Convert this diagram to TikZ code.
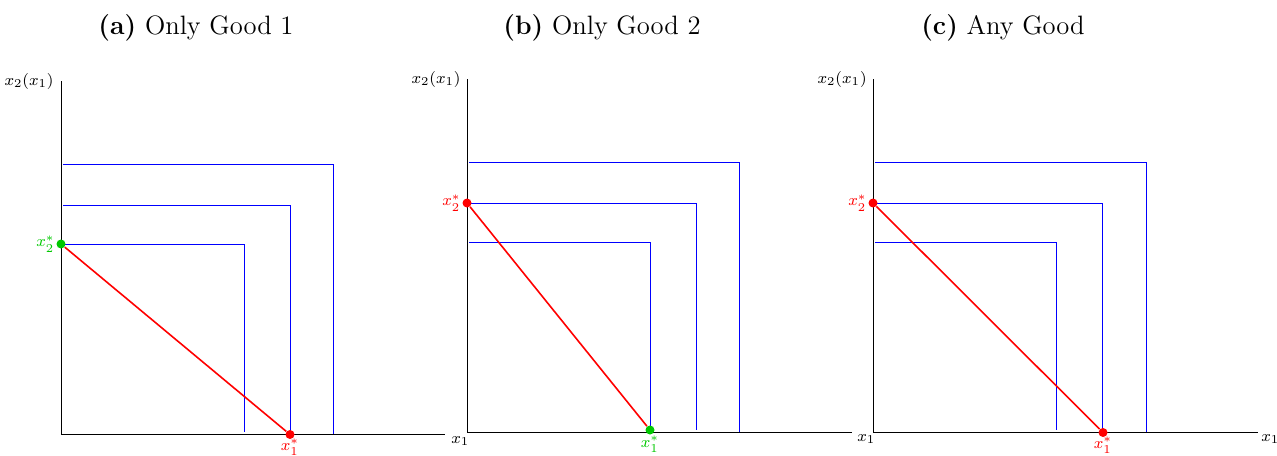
\documentclass[tikz,border=0pt]{standalone}
\begin{document}
\begin{tikzpicture}[x=0.5pt,y=-0.5pt,
  axis/.style={line width=0.5pt,black},
  indiff/.style={line width=0.5pt,blue},
  budget/.style={line width=0.8pt,red},
  reddot/.style={circle,fill=red,inner sep=0pt,minimum size=4.5pt},
  greendot/.style={circle,fill=goodgreen,inner sep=0pt,minimum size=4.5pt},
  lbl/.style={font=\fontsize{8.2}{10}\selectfont,inner sep=0.5pt},
  ttl/.style={font=\fontsize{13.3}{16}\selectfont,inner sep=0pt}]
\definecolor{goodgreen}{RGB}{0,200,0}
\useasboundingbox (0,0) rectangle (1277,455);
% ---------- panel a ----------
\node[ttl] (ta) at (196,28) {\textbf{(a)} Only Good 1};
\coordinate (aO) at (61,434.5);
\coordinate (aY) at (61,81);
\coordinate (aX) at (445,434.5);
\draw[axis] (aY) -- (aO) -- (aX);
\node[lbl,anchor=east] (aylab) at (55,81) {$x_2(x_1)$};
\node[lbl,anchor=north west] (axlab) at (450,435) {$x_1$};
\draw[indiff] (63,164) -- (333,164) -- (333,434);
\draw[indiff] (63,205) -- (290,205) -- (290,432);
\draw[indiff] (63,244) -- (244,244) -- (244,432);
\node[greendot] (a2) at (61,244) {};
\node[reddot] (a1) at (290,434.5) {};
\draw[budget] (a2) -- (a1);
\node[lbl,anchor=east,text=goodgreen] (a2l) at (56,244) {$x_2^*$};
\node[lbl,anchor=base,text=red] (a1l) at (290,450) {$x_1^*$};
% ---------- panel b ----------
\node[ttl] (tb) at (602,28) {\textbf{(b)} Only Good 2};
\coordinate (bO) at (467,432);
\coordinate (bY) at (467,79);
\coordinate (bX) at (852,432);
\draw[axis] (bY) -- (bO) -- (bX);
\node[lbl,anchor=east] (bylab) at (462,79) {$x_2(x_1)$};
\node[lbl,anchor=north west] (bxlab) at (856,433) {$x_1$};
\draw[indiff] (469,162) -- (739,162) -- (739,432);
\draw[indiff] (469,203) -- (696,203) -- (696,430);
\draw[indiff] (469,242) -- (650,242) -- (650,430);
\node[reddot] (b2) at (467,203) {};
\node[greendot] (b1) at (650,430) {};
\draw[budget] (b2) -- (b1);
\node[lbl,anchor=east,text=red] (b2l) at (462,203) {$x_2^*$};
\node[lbl,anchor=base,text=goodgreen] (b1l) at (650,447) {$x_1^*$};
% ---------- panel c ----------
\node[ttl] (tc) at (1003,28) {\textbf{(c)} Any Good};
\coordinate (cO) at (873,432);
\coordinate (cY) at (873,79);
\coordinate (cX) at (1258,432);
\draw[axis] (cY) -- (cO) -- (cX);
\node[lbl,anchor=east] (cylab) at (868,79) {$x_2(x_1)$};
\node[lbl,anchor=north west] (cxlab) at (1260,433) {$x_1$};
\draw[indiff] (875,162) -- (1146,162) -- (1146,432);
\draw[indiff] (875,203) -- (1102,203) -- (1102,432);
\draw[indiff] (875,242) -- (1056,242) -- (1056,430);
\node[reddot] (c2) at (873,203) {};
\node[reddot] (c1) at (1103,432.5) {};
\draw[budget] (c2) -- (c1);
\node[lbl,anchor=east,text=red] (c2l) at (868,203) {$x_2^*$};
\node[lbl,anchor=base,text=red] (c1l) at (1103,448) {$x_1^*$};
\end{tikzpicture}
\end{document}
